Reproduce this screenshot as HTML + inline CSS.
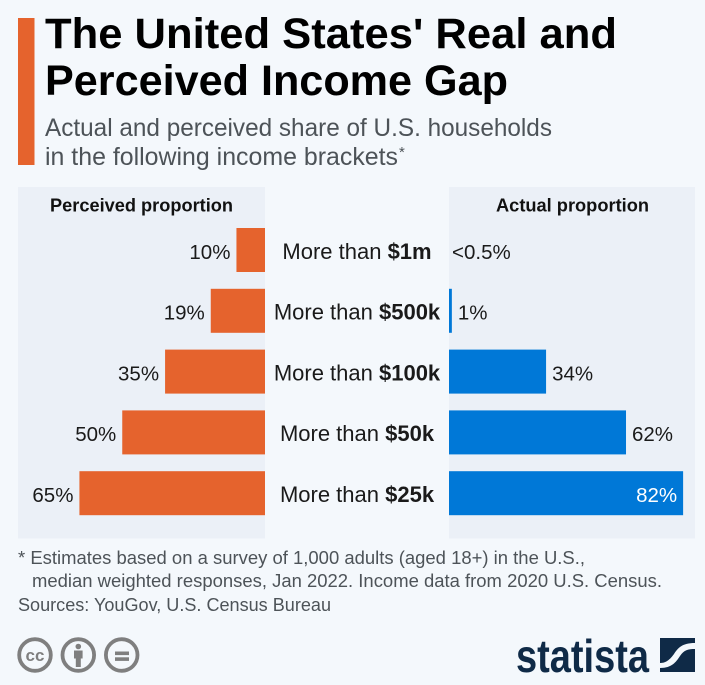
<!DOCTYPE html>
<html lang="en">
<head>
<meta charset="utf-8">
<title>The United States' Real and Perceived Income Gap</title>
<style>
html,body{margin:0;padding:0;background:#f4f8fc;}
svg{display:block;}
text{font-family:"Liberation Sans",sans-serif;}
</style>
</head>
<body>
<svg id="chart" width="705" height="685" viewBox="0 0 705 685" xmlns="http://www.w3.org/2000/svg">
  <rect width="705" height="685" fill="#f4f8fc"/>
  <rect x="18" y="18" width="16.5" height="147" fill="#e5632d"/>
  <text x="45" y="48" font-size="43" font-weight="700" fill="#000" textLength="572" lengthAdjust="spacingAndGlyphs">The United States' Real and</text>
  <text x="45" y="95" font-size="43" font-weight="700" fill="#000" textLength="463" lengthAdjust="spacingAndGlyphs">Perceived Income Gap</text>
  <text x="45" y="136" font-size="25" fill="#4d5358" textLength="507" lengthAdjust="spacingAndGlyphs">Actual and perceived share of U.S. households</text>
  <text x="45" y="165" font-size="25" fill="#4d5358" textLength="353" lengthAdjust="spacingAndGlyphs">in the following income brackets</text>
  <text x="399" y="157" font-size="15" fill="#4d5358">*</text>

  <rect x="18" y="187" width="247" height="351.500" fill="#ebf0f7"/>
  <rect x="449" y="187" width="246" height="351.500" fill="#ebf0f7"/>
  <text x="50" y="211.500" font-size="18" font-weight="700" fill="#111" textLength="183" lengthAdjust="spacingAndGlyphs">Perceived proportion</text>
  <text x="496" y="211.500" font-size="18" font-weight="700" fill="#111" textLength="153" lengthAdjust="spacingAndGlyphs">Actual proportion</text>

  <g id="marks"></g>

  <text x="18" y="564" font-size="18" fill="#4d5358" textLength="567" lengthAdjust="spacingAndGlyphs">* Estimates based on a survey of 1,000 adults (aged 18+) in the U.S.,</text>
  <text x="32" y="587" font-size="18" fill="#4d5358" textLength="630" lengthAdjust="spacingAndGlyphs">median weighted responses, Jan 2022. Income data from 2020 U.S. Census.</text>
  <text x="18" y="611" font-size="18" fill="#4d5358" textLength="313" lengthAdjust="spacingAndGlyphs">Sources: YouGov, U.S. Census Bureau</text>

  <g>
    <circle cx="35" cy="655" r="15.800" fill="none" stroke="#7f7f7f" stroke-width="3.800"/>
    <text x="35" y="661" font-size="17" font-weight="700" fill="#7f7f7f" text-anchor="middle">cc</text>
  </g>
  <g>
    <circle cx="78.300" cy="655" r="15.800" fill="none" stroke="#7f7f7f" stroke-width="3.800"/>
    <circle cx="78.300" cy="646.500" r="2.800" fill="#7f7f7f"/>
    <path d="M74 650.500h8.600v8h-1.800v8.500h-5v-8.500h-1.800z" fill="#7f7f7f"/>
  </g>
  <g>
    <circle cx="121.700" cy="655" r="15.800" fill="none" stroke="#7f7f7f" stroke-width="3.800"/>
    <rect x="115" y="651.500" width="14" height="3.600" fill="#7f7f7f"/>
    <rect x="115" y="657.300" width="14" height="3.600" fill="#7f7f7f"/>
  </g>

  <text x="516" y="672" font-size="46" font-weight="700" fill="#0f2a47" textLength="133" lengthAdjust="spacingAndGlyphs">statista</text>
  <g fill="#0f2a47">
    <path d="M660 638H695V643C682 643 678 648 674 654C669 661 665 663 660 663Z"/>
    <path d="M695 649V672H660V668C672 668 676 662 680 656C684 650 688 649 695 649Z"/>
  </g>
</svg>
<script>
const categoryPrefix = ["More than ", "More than ", "More than ", "More than ", "More than "];
const categoryAmounts = ["$1m", "$500k", "$100k", "$50k", "$25k"];
const perceivedValues = [10, 19, 35, 50, 65];
const actualValues = [0, 1, 34, 62, 82];
const actualLabels = ["<0.5%", "1%", "34%", "62%", "82%"];

const NS = "http://www.w3.org/2000/svg";
const marks = document.getElementById("marks");
const scaleX = v => v * 2.855;
const bandY = i => 228 + i * 60.8;
const barHeight = 44;
const leftBase = 265;
const rightBase = 449;
const textDrop = 8.8;

function makeRect(x, y, w, h, fill) {
  const r = document.createElementNS(NS, "rect");
  r.setAttribute("x", x);
  r.setAttribute("y", y);
  r.setAttribute("width", w);
  r.setAttribute("height", h);
  r.setAttribute("fill", fill);
  return r;
}
function makeText(x, y, str, anchor, fill) {
  const t = document.createElementNS(NS, "text");
  t.setAttribute("x", x);
  t.setAttribute("y", y);
  t.setAttribute("font-size", "20.5");
  t.setAttribute("text-anchor", anchor);
  t.setAttribute("fill", fill);
  t.textContent = str;
  return t;
}

perceivedValues.forEach((v, i) => {
  const w = scaleX(v);
  const bar = makeRect(leftBase - w, bandY(i), w, barHeight, "#e5632d");
  
  
  marks.appendChild(bar);
  const label = makeText(leftBase - w - 6, bandY(i) + barHeight / 2 + textDrop, v + "%", "end", "#1a1a1a");
  
  
  marks.appendChild(label);
});

actualValues.forEach((v, i) => {
  const w = scaleX(v);
  if (w > 0) {
    const bar = makeRect(rightBase, bandY(i), w, barHeight, "#0078d7");
    
    
    marks.appendChild(bar);
  }
  const inside = v >= 70;
  const x = inside ? rightBase + w - 6 : rightBase + w + 6 - (w === 0 ? 3 : 0);
  const label = makeText(x, bandY(i) + barHeight / 2 + textDrop, actualLabels[i], inside ? "end" : "start", inside ? "#ffffff" : "#1a1a1a");
  
  
  marks.appendChild(label);
});

categoryAmounts.forEach((amt, i) => {
  const t = makeText(357, bandY(i) + barHeight / 2 + textDrop, "", "middle", "#1a1a1a");
  
  
  t.setAttribute("font-size", "22");
  const a = document.createElementNS(NS, "tspan");
  a.textContent = categoryPrefix[i];
  const b = document.createElementNS(NS, "tspan");
  b.setAttribute("font-weight", "700");
  b.textContent = amt;
  t.appendChild(a);
  t.appendChild(b);
  marks.appendChild(t);
});
</script>
</body>
</html>
